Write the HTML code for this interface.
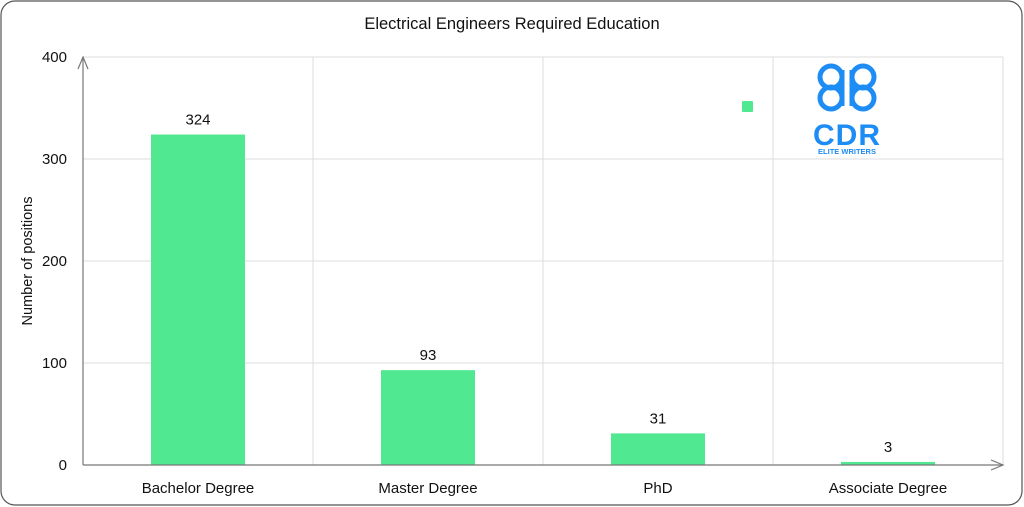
<!DOCTYPE html>
<html><head><meta charset="utf-8">
<style>
html,body{margin:0;padding:0;background:#fff;}
svg{display:block;font-family:"Liberation Sans",sans-serif;}
</style></head>
<body>
<svg width="1024" height="507" viewBox="0 0 1024 507">
<rect x="1" y="1" width="1021" height="504" rx="14" fill="#fff" stroke="#555" stroke-width="1.2"/>
<text x="512" y="29" text-anchor="middle" font-size="16.5" fill="#111">Electrical Engineers Required Education</text>
<text transform="translate(32,261) rotate(-90)" text-anchor="middle" font-size="14.5" fill="#111">Number of positions</text>
<g id="grid"></g>
<g id="bars"></g>
<g id="labels"></g>
<g><rect x="742" y="101" width="11" height="11" fill="#50e890" rx="1"/></g>
<g fill="none" stroke="#1e8cf5" stroke-width="5">
  <circle cx="831" cy="77" r="11"/><circle cx="863" cy="77" r="11"/>
  <circle cx="831" cy="98" r="11"/><circle cx="863" cy="98" r="11"/>
  <line x1="842" y1="70" x2="842" y2="106"/><line x1="852" y1="70" x2="852" y2="106"/>
  <text x="847" y="145" text-anchor="middle" font-size="30" fill="#1e8cf5" stroke="none" font-weight="bold" letter-spacing="1">CDR</text>
  <text x="847" y="154" text-anchor="middle" font-size="7.5" fill="#1e8cf5" stroke="none" font-weight="bold">ELITE WRITERS</text>
</g>
</svg>
<script>
const categories=["Bachelor Degree","Master Degree","PhD","Associate Degree"];
const values=[324,93,31,3];
const yTicks=[0,100,200,300,400];
const NS="http://www.w3.org/2000/svg";
const X0=83,X1=1003,Y0=465,Y1=57,YMAX=400;
const bw=(X1-X0)/categories.length;
function y(v){return Y0-(v/YMAX)*(Y0-Y1);}
function xc(i){return X0+bw*(i+0.5);}
function mk(t,a,p){const e=document.createElementNS(NS,t);for(const k in a)e.setAttribute(k,a[k]);p.appendChild(e);return e;}
const g=document.getElementById('grid'),b=document.getElementById('bars'),l=document.getElementById('labels');
yTicks.forEach(t=>{
  if(t>0){const ln=mk('line',{x1:X0,x2:X1,y1:y(t),y2:y(t),stroke:'#dcdcdc','stroke-width':1},g);
  
  }
  const tx=mk('text',{x:67,y:y(t)+5,'text-anchor':'end','font-size':15,fill:'#111'},g);tx.textContent=t;
  
  
});
for(let i=1;i<=categories.length;i++){
  const ln=mk('line',{x1:X0+bw*i,x2:X0+bw*i,y1:Y1,y2:Y0,stroke:'#dcdcdc','stroke-width':1},g);
  
  
}
categories.forEach((c,i)=>{
  const w=94;
  const r=mk('rect',{x:xc(i)-w/2,y:y(values[i]),width:w,height:Y0-y(values[i]),fill:'#50e890'},b);
  
  
  const vl=mk('text',{x:xc(i),y:y(values[i])-10,'text-anchor':'middle','font-size':15,fill:'#111'},l);vl.textContent=values[i];
  
  
  const cl=mk('text',{x:xc(i),y:493,'text-anchor':'middle','font-size':15,fill:'#111'},l);cl.textContent=c;
  
  
});
const ax=mk('g',{stroke:'#777','stroke-width':1.2,fill:'none'},l);


mk('line',{x1:X0,y1:Y0,x2:X0,y2:Y1},ax);
mk('polyline',{points:`${X0-5},${Y1+12} ${X0},${Y1} ${X0+5},${Y1+12}`},ax);
mk('line',{x1:X0,y1:Y0,x2:X1,y2:Y0},ax);
mk('polyline',{points:`${X1-12},${Y0-5} ${X1},${Y0} ${X1-12},${Y0+5}`},ax);
</script>
</body></html>
